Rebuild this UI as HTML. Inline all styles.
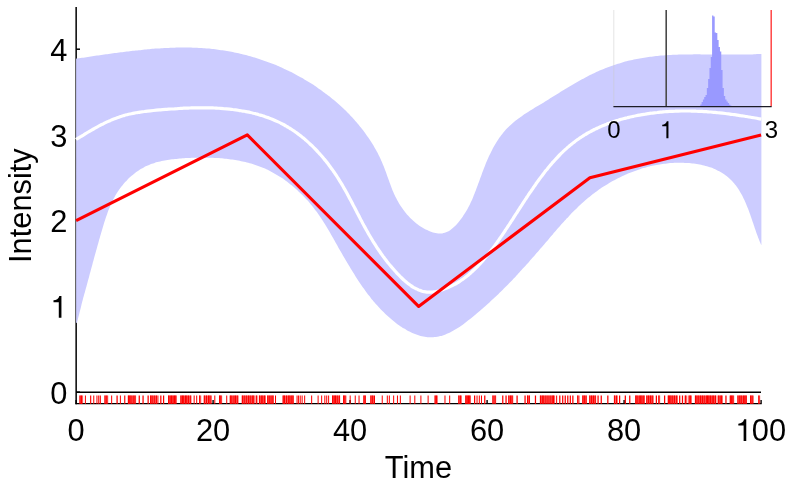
<!DOCTYPE html>
<html><head><meta charset="utf-8"><title>Intensity</title>
<style>
html,body{margin:0;padding:0;background:#fff;}
body{width:789px;height:487px;overflow:hidden;}
svg{display:block;will-change:transform;}
text{font-family:"Liberation Sans",sans-serif;fill:#000;}
</style></head><body>
<svg width="789" height="487" viewBox="0 0 789 487">
<rect width="789" height="487" fill="#fff"/>
<g stroke="#000" stroke-width="1.5" fill="none">
<line x1="76.15" y1="6.9" x2="76.15" y2="404.3"/>
<line x1="76.1" x2="80" y1="392.2" y2="392.2"/><line x1="76.1" x2="80" y1="306.4" y2="306.4"/><line x1="76.1" x2="80" y1="220.7" y2="220.7"/><line x1="76.1" x2="80" y1="134.9" y2="134.9"/><line x1="76.1" x2="80" y1="49.2" y2="49.2"/>
</g>
<path d="M76.1,58.7 C76.6,58.6 78.1,58.4 79.0,58.3 C80.0,58.1 81.0,58.0 82.0,57.8 C83.0,57.7 84.0,57.5 85.0,57.4 C85.9,57.2 86.9,57.1 87.9,56.9 C88.9,56.8 89.9,56.7 90.9,56.5 C91.9,56.4 92.9,56.2 93.8,56.1 C94.8,55.9 95.8,55.8 96.8,55.6 C97.8,55.5 98.8,55.3 99.8,55.2 C100.8,55.1 101.8,54.9 102.8,54.8 C103.8,54.6 104.8,54.5 105.8,54.3 C106.7,54.2 107.7,54.1 108.7,53.9 C109.7,53.8 110.7,53.6 111.7,53.5 C112.7,53.4 113.7,53.2 114.7,53.1 C115.7,53.0 116.7,52.8 117.7,52.7 C118.7,52.6 119.7,52.4 120.7,52.3 C121.7,52.2 122.7,52.0 123.7,51.9 C124.7,51.8 125.7,51.7 126.7,51.5 C127.7,51.4 128.7,51.3 129.7,51.2 C130.7,51.1 131.7,50.9 132.7,50.8 C133.7,50.7 134.7,50.6 135.7,50.5 C136.7,50.4 137.7,50.3 138.7,50.2 C139.7,50.1 140.7,50.0 141.7,49.9 C142.7,49.8 143.7,49.7 144.7,49.6 C145.7,49.5 146.7,49.4 147.7,49.3 C148.7,49.2 149.7,49.1 150.7,49.0 C151.7,48.9 152.7,48.9 153.7,48.8 C154.7,48.7 155.7,48.6 156.7,48.6 C157.7,48.5 158.7,48.4 159.7,48.4 C160.7,48.3 161.7,48.2 162.7,48.2 C163.7,48.1 164.7,48.1 165.7,48.0 C166.7,48.0 167.7,47.9 168.7,47.9 C169.7,47.8 170.7,47.8 171.7,47.8 C172.7,47.7 173.7,47.7 174.7,47.7 C175.7,47.7 176.7,47.6 177.7,47.6 C178.7,47.6 179.7,47.6 180.7,47.6 C181.7,47.6 182.7,47.6 183.7,47.6 C184.7,47.6 185.7,47.6 186.7,47.6 C187.7,47.6 188.7,47.6 189.7,47.6 C190.7,47.7 191.7,47.7 192.7,47.7 C193.7,47.7 194.7,47.8 195.7,47.8 C196.7,47.9 197.7,47.9 198.7,48.0 C199.7,48.0 200.7,48.1 201.7,48.1 C202.7,48.2 203.7,48.3 204.7,48.3 C205.7,48.4 206.7,48.5 207.6,48.6 C208.6,48.7 209.6,48.7 210.6,48.8 C211.6,48.9 212.6,49.0 213.6,49.1 C214.6,49.3 215.6,49.4 216.6,49.5 C217.6,49.6 218.5,49.7 219.5,49.9 C220.5,50.0 221.5,50.1 222.5,50.3 C223.5,50.4 224.5,50.6 225.5,50.8 C226.4,50.9 227.4,51.1 228.4,51.3 C229.4,51.4 230.4,51.6 231.4,51.8 C232.3,52.0 233.3,52.2 234.3,52.4 C235.3,52.6 236.3,52.8 237.2,53.0 C238.2,53.2 239.2,53.4 240.2,53.7 C241.1,53.9 242.1,54.1 243.1,54.4 C244.1,54.6 245.0,54.8 246.0,55.1 C247.0,55.4 248.0,55.6 248.9,55.9 C249.9,56.1 250.9,56.4 251.8,56.7 C252.8,57.0 253.8,57.3 254.7,57.6 C255.7,57.9 256.6,58.2 257.6,58.5 C258.6,58.8 259.5,59.1 260.5,59.4 C261.4,59.7 262.4,60.0 263.3,60.4 C264.3,60.7 265.2,61.0 266.2,61.4 C267.1,61.7 268.1,62.1 269.0,62.4 C270.0,62.8 270.9,63.1 271.8,63.5 C272.8,63.9 273.7,64.3 274.6,64.6 C275.6,65.0 276.5,65.4 277.4,65.8 C278.4,66.2 279.3,66.6 280.2,67.0 C281.1,67.4 282.1,67.8 283.0,68.2 C283.9,68.6 284.8,69.1 285.7,69.5 C286.6,69.9 287.5,70.4 288.4,70.8 C289.4,71.2 290.3,71.7 291.2,72.1 C292.1,72.6 293.0,73.0 293.9,73.5 C294.7,74.0 295.6,74.4 296.5,74.9 C297.4,75.4 298.3,75.9 299.2,76.4 C300.1,76.9 300.9,77.3 301.8,77.8 C302.7,78.3 303.6,78.8 304.4,79.4 C305.3,79.9 306.2,80.4 307.0,80.9 C307.9,81.4 308.7,82.0 309.6,82.5 C310.4,83.0 311.3,83.6 312.1,84.1 C313.0,84.7 313.8,85.2 314.7,85.8 C315.5,86.3 316.3,86.9 317.2,87.4 C318.0,88.0 318.8,88.6 319.6,89.2 C320.5,89.7 321.3,90.3 322.1,90.9 C322.9,91.5 323.7,92.1 324.5,92.7 C325.3,93.3 326.1,93.9 326.9,94.5 C327.7,95.1 328.5,95.7 329.3,96.3 C330.1,97.0 330.8,97.6 331.6,98.2 C332.4,98.8 333.2,99.5 333.9,100.1 C334.7,100.8 335.5,101.4 336.2,102.1 C337.0,102.7 337.7,103.4 338.5,104.0 C339.2,104.7 340.0,105.4 340.7,106.0 C341.4,106.7 342.2,107.4 342.9,108.1 C343.6,108.8 344.3,109.4 345.0,110.1 C345.8,110.8 346.5,111.5 347.2,112.2 C347.9,112.9 348.6,113.6 349.3,114.3 C350.0,115.1 350.6,115.8 351.3,116.5 C352.0,117.2 352.7,118.0 353.4,118.7 C354.0,119.4 354.7,120.2 355.3,120.9 C356.0,121.6 356.6,122.4 357.3,123.2 C357.9,123.9 358.6,124.7 359.2,125.4 C359.8,126.2 360.5,127.0 361.1,127.7 C361.7,128.5 362.3,129.3 362.9,130.1 C363.5,130.9 364.1,131.7 364.7,132.5 C365.3,133.3 365.9,134.1 366.4,134.9 C367.0,135.7 367.6,136.5 368.1,137.3 C368.7,138.1 369.2,139.0 369.8,139.8 C370.3,140.6 370.9,141.5 371.4,142.3 C371.9,143.1 372.5,144.0 373.0,144.8 C373.5,145.7 374.0,146.5 374.5,147.4 C375.0,148.3 375.5,149.1 376.0,150.0 C376.4,150.9 376.9,151.8 377.4,152.6 C377.8,153.5 378.3,154.4 378.7,155.3 C379.2,156.2 379.6,157.1 380.1,158.0 C380.5,158.9 380.9,159.8 381.3,160.8 C381.7,161.7 382.1,162.6 382.5,163.5 C382.9,164.5 383.3,165.4 383.7,166.3 C384.1,167.3 384.4,168.2 384.8,169.2 C385.2,170.1 385.5,171.1 385.9,172.0 C386.2,173.0 386.6,174.0 386.9,174.9 C387.2,175.9 387.6,176.9 387.9,177.8 C388.3,178.8 388.6,179.8 389.0,180.7 C389.3,181.7 389.7,182.7 390.0,183.6 C390.4,184.6 390.7,185.5 391.1,186.5 C391.5,187.5 391.8,188.4 392.2,189.4 C392.6,190.3 393.0,191.3 393.4,192.2 C393.8,193.1 394.2,194.1 394.6,195.0 C395.1,195.9 395.5,196.9 396.0,197.8 C396.4,198.7 396.9,199.6 397.4,200.5 C397.9,201.4 398.4,202.3 398.9,203.2 C399.4,204.1 400.0,204.9 400.5,205.8 C401.1,206.7 401.7,207.5 402.3,208.3 C402.8,209.2 403.4,210.0 404.1,210.8 C404.7,211.6 405.3,212.4 406.0,213.2 C406.6,214.0 407.3,214.7 408.0,215.5 C408.6,216.2 409.3,217.0 410.0,217.7 C410.7,218.4 411.4,219.1 412.2,219.8 C412.9,220.5 413.6,221.1 414.4,221.8 C415.1,222.4 415.9,223.1 416.7,223.7 C417.4,224.3 418.2,224.8 419.0,225.4 C419.8,226.0 420.6,226.5 421.4,227.0 C422.3,227.5 423.1,228.0 423.9,228.5 C424.7,229.0 425.6,229.4 426.4,229.8 C427.3,230.2 428.1,230.6 429.0,231.0 C429.9,231.4 430.7,231.7 431.6,232.0 C432.5,232.3 433.4,232.6 434.2,232.8 C435.1,233.0 436.0,233.2 436.9,233.3 C437.8,233.4 438.7,233.5 439.5,233.5 C440.4,233.5 441.3,233.5 442.2,233.4 C443.0,233.2 443.9,233.1 444.8,232.8 C445.6,232.5 446.5,232.2 447.3,231.8 C448.2,231.4 449.0,230.9 449.8,230.4 C450.6,229.8 451.4,229.2 452.2,228.6 C453.0,227.9 453.8,227.2 454.5,226.5 C455.3,225.8 456.0,225.0 456.8,224.2 C457.5,223.4 458.2,222.6 458.9,221.8 C459.5,220.9 460.2,220.1 460.8,219.3 C461.5,218.4 462.1,217.6 462.7,216.7 C463.2,215.9 463.8,215.0 464.4,214.1 C464.9,213.3 465.5,212.4 466.0,211.5 C466.5,210.6 467.0,209.8 467.5,208.9 C468.0,208.0 468.5,207.1 468.9,206.2 C469.4,205.3 469.8,204.3 470.3,203.4 C470.7,202.5 471.1,201.6 471.6,200.7 C472.0,199.8 472.4,198.8 472.8,197.9 C473.2,197.0 473.6,196.0 473.9,195.1 C474.3,194.2 474.7,193.2 475.0,192.3 C475.4,191.3 475.8,190.4 476.1,189.4 C476.5,188.5 476.8,187.6 477.2,186.6 C477.5,185.7 477.9,184.7 478.2,183.7 C478.6,182.8 478.9,181.8 479.3,180.9 C479.6,179.9 480.0,179.0 480.3,178.0 C480.7,177.1 481.0,176.1 481.4,175.2 C481.7,174.2 482.1,173.3 482.4,172.3 C482.8,171.4 483.1,170.4 483.5,169.5 C483.9,168.5 484.2,167.6 484.6,166.7 C485.0,165.7 485.4,164.8 485.7,163.8 C486.1,162.9 486.5,162.0 486.9,161.1 C487.3,160.1 487.7,159.2 488.1,158.3 C488.5,157.4 488.9,156.5 489.3,155.6 C489.8,154.7 490.2,153.8 490.6,152.9 C491.1,152.0 491.5,151.1 492.0,150.2 C492.4,149.3 492.9,148.4 493.3,147.6 C493.8,146.7 494.3,145.9 494.8,145.0 C495.3,144.2 495.8,143.3 496.3,142.5 C496.8,141.6 497.3,140.8 497.9,140.0 C498.4,139.2 499.0,138.4 499.5,137.6 C500.1,136.8 500.7,136.0 501.2,135.2 C501.8,134.4 502.4,133.7 503.0,132.9 C503.7,132.2 504.3,131.4 504.9,130.7 C505.6,130.0 506.2,129.3 506.9,128.6 C507.6,127.8 508.3,127.2 509.0,126.5 C509.7,125.8 510.4,125.1 511.2,124.5 C511.9,123.8 512.6,123.2 513.4,122.5 C514.2,121.9 514.9,121.3 515.7,120.6 C516.5,120.0 517.3,119.4 518.1,118.8 C518.9,118.2 519.7,117.6 520.6,117.0 C521.4,116.5 522.2,115.9 523.0,115.3 C523.9,114.7 524.7,114.2 525.6,113.6 C526.4,113.1 527.3,112.5 528.1,112.0 C529.0,111.4 529.9,110.9 530.7,110.3 C531.6,109.8 532.5,109.2 533.3,108.7 C534.2,108.2 535.1,107.6 535.9,107.1 C536.8,106.6 537.7,106.1 538.6,105.5 C539.4,105.0 540.3,104.5 541.2,104.0 C542.0,103.4 542.9,102.9 543.8,102.4 C544.6,101.9 545.5,101.3 546.4,100.8 C547.2,100.3 548.1,99.7 548.9,99.2 C549.8,98.7 550.6,98.2 551.5,97.6 C552.3,97.1 553.1,96.6 554.0,96.0 C554.8,95.5 555.7,95.0 556.5,94.5 C557.4,93.9 558.2,93.4 559.0,92.9 C559.9,92.4 560.7,91.8 561.5,91.3 C562.4,90.8 563.2,90.3 564.1,89.8 C564.9,89.2 565.7,88.7 566.6,88.2 C567.4,87.7 568.3,87.2 569.1,86.7 C570.0,86.2 570.8,85.7 571.7,85.2 C572.5,84.7 573.4,84.2 574.2,83.7 C575.1,83.2 575.9,82.7 576.8,82.2 C577.6,81.7 578.5,81.2 579.4,80.7 C580.3,80.2 581.1,79.8 582.0,79.3 C582.9,78.8 583.8,78.3 584.6,77.9 C585.5,77.4 586.4,76.9 587.3,76.5 C588.2,76.0 589.1,75.6 590.0,75.1 C590.9,74.7 591.8,74.3 592.7,73.8 C593.6,73.4 594.5,73.0 595.4,72.5 C596.4,72.1 597.3,71.7 598.2,71.3 C599.1,70.9 600.0,70.5 601.0,70.1 C601.9,69.7 602.8,69.3 603.7,68.9 C604.7,68.5 605.6,68.2 606.6,67.8 C607.5,67.4 608.4,67.1 609.4,66.7 C610.3,66.4 611.3,66.0 612.2,65.7 C613.2,65.3 614.1,65.0 615.1,64.7 C616.0,64.4 617.0,64.1 617.9,63.8 C618.9,63.4 619.8,63.2 620.8,62.9 C621.8,62.6 622.7,62.3 623.7,62.0 C624.6,61.8 625.6,61.5 626.6,61.3 C627.6,61.0 628.5,60.8 629.5,60.6 C630.5,60.3 631.4,60.1 632.4,59.9 C633.4,59.7 634.4,59.5 635.3,59.3 C636.3,59.1 637.3,58.9 638.3,58.7 C639.3,58.5 640.2,58.3 641.2,58.2 C642.2,58.0 643.2,57.8 644.2,57.7 C645.2,57.5 646.2,57.4 647.1,57.2 C648.1,57.1 649.1,56.9 650.1,56.8 C651.1,56.7 652.1,56.6 653.1,56.5 C654.1,56.3 655.1,56.2 656.1,56.1 C657.1,56.0 658.1,55.9 659.1,55.8 C660.1,55.7 661.1,55.6 662.1,55.6 C663.1,55.5 664.1,55.4 665.1,55.3 C666.1,55.3 667.1,55.2 668.1,55.1 C669.1,55.1 670.1,55.0 671.1,55.0 C672.1,54.9 673.1,54.9 674.1,54.8 C675.1,54.8 676.1,54.7 677.1,54.7 C678.1,54.6 679.1,54.6 680.2,54.6 C681.2,54.6 682.2,54.5 683.2,54.5 C684.2,54.5 685.2,54.5 686.2,54.4 C687.2,54.4 688.2,54.4 689.2,54.4 C690.2,54.4 691.3,54.4 692.3,54.4 C693.3,54.4 694.3,54.4 695.3,54.3 C696.3,54.3 697.3,54.3 698.3,54.3 C699.3,54.3 700.4,54.3 701.4,54.4 C702.4,54.4 703.4,54.4 704.4,54.4 C705.4,54.4 706.4,54.4 707.4,54.4 C708.4,54.4 709.5,54.4 710.5,54.4 C711.5,54.4 712.5,54.4 713.5,54.4 C714.5,54.5 715.5,54.5 716.5,54.5 C717.5,54.5 718.5,54.5 719.5,54.5 C720.6,54.5 721.6,54.5 722.6,54.5 C723.6,54.6 724.6,54.6 725.6,54.6 C726.6,54.6 727.6,54.6 728.6,54.6 C729.6,54.6 730.6,54.6 731.6,54.6 C732.6,54.6 733.6,54.6 734.6,54.6 C735.6,54.6 736.6,54.6 737.6,54.6 C738.6,54.6 739.6,54.6 740.6,54.6 C741.6,54.6 742.6,54.6 743.6,54.6 C744.6,54.6 745.6,54.5 746.6,54.5 C747.6,54.5 748.6,54.5 749.6,54.5 C750.6,54.4 751.6,54.4 752.5,54.4 C753.5,54.3 754.5,54.3 755.5,54.3 C756.5,54.2 757.5,54.2 758.5,54.1 C759.4,54.1 760.9,54.0 761.4,54.0 L761.4,245.3  C761.2,244.9 760.6,243.6 760.3,242.8 C759.9,241.9 759.5,241.1 759.2,240.2 C758.8,239.3 758.5,238.4 758.1,237.5 C757.8,236.6 757.5,235.7 757.1,234.8 C756.8,233.9 756.5,232.9 756.1,232.0 C755.8,231.0 755.5,230.1 755.1,229.1 C754.8,228.2 754.5,227.2 754.2,226.3 C753.8,225.3 753.5,224.3 753.2,223.3 C752.9,222.4 752.5,221.4 752.2,220.4 C751.9,219.4 751.5,218.4 751.2,217.4 C750.8,216.5 750.5,215.5 750.2,214.5 C749.8,213.5 749.4,212.5 749.1,211.6 C748.7,210.6 748.4,209.6 748.0,208.6 C747.6,207.6 747.2,206.7 746.8,205.7 C746.4,204.8 746.0,203.8 745.6,202.8 C745.2,201.9 744.8,200.9 744.4,200.0 C743.9,199.1 743.5,198.2 743.0,197.2 C742.6,196.3 742.1,195.4 741.6,194.5 C741.1,193.6 740.6,192.7 740.1,191.9 C739.6,191.0 739.0,190.2 738.5,189.3 C738.0,188.5 737.4,187.6 736.8,186.8 C736.2,186.0 735.6,185.2 735.0,184.5 C734.4,183.7 733.7,182.9 733.1,182.2 C732.4,181.4 731.7,180.7 731.0,180.0 C730.3,179.3 729.6,178.7 728.9,178.0 C728.1,177.3 727.4,176.7 726.6,176.1 C725.8,175.5 725.1,174.9 724.2,174.3 C723.4,173.8 722.6,173.2 721.8,172.7 C721.0,172.2 720.1,171.7 719.3,171.2 C718.4,170.8 717.5,170.3 716.6,169.9 C715.7,169.5 714.9,169.1 713.9,168.7 C713.0,168.3 712.1,168.0 711.2,167.6 C710.3,167.3 709.3,167.0 708.4,166.7 C707.4,166.4 706.5,166.1 705.5,165.9 C704.6,165.6 703.6,165.4 702.6,165.2 C701.7,165.0 700.7,164.8 699.7,164.6 C698.7,164.4 697.7,164.2 696.8,164.1 C695.8,163.9 694.8,163.8 693.8,163.6 C692.8,163.5 691.8,163.4 690.8,163.3 C689.8,163.2 688.8,163.1 687.8,163.1 C686.8,163.0 685.8,162.9 684.9,162.9 C683.9,162.8 682.9,162.8 681.9,162.8 C680.9,162.8 679.9,162.8 678.9,162.8 C677.9,162.8 676.9,162.8 675.9,162.8 C674.9,162.9 673.9,162.9 672.9,162.9 C671.9,163.0 670.9,163.1 670.0,163.1 C669.0,163.2 668.0,163.3 667.0,163.4 C666.0,163.5 665.0,163.6 664.0,163.8 C663.0,163.9 662.1,164.0 661.1,164.2 C660.1,164.3 659.1,164.5 658.1,164.7 C657.2,164.8 656.2,165.0 655.2,165.2 C654.2,165.4 653.2,165.6 652.3,165.8 C651.3,166.0 650.3,166.3 649.4,166.5 C648.4,166.7 647.4,167.0 646.5,167.2 C645.5,167.5 644.5,167.8 643.6,168.1 C642.6,168.3 641.7,168.6 640.7,168.9 C639.7,169.2 638.8,169.5 637.8,169.9 C636.9,170.2 636.0,170.5 635.0,170.9 C634.1,171.2 633.1,171.5 632.2,171.9 C631.3,172.3 630.3,172.6 629.4,173.0 C628.5,173.4 627.5,173.8 626.6,174.2 C625.7,174.6 624.8,175.0 623.9,175.4 C623.0,175.8 622.0,176.2 621.1,176.7 C620.2,177.1 619.3,177.6 618.4,178.0 C617.5,178.5 616.6,178.9 615.7,179.4 C614.9,179.9 614.0,180.3 613.1,180.8 C612.2,181.3 611.3,181.8 610.5,182.3 C609.6,182.8 608.7,183.3 607.9,183.9 C607.0,184.4 606.1,184.9 605.3,185.4 C604.4,186.0 603.6,186.5 602.7,187.1 C601.9,187.6 601.1,188.2 600.2,188.8 C599.4,189.3 598.6,189.9 597.8,190.5 C596.9,191.1 596.1,191.7 595.3,192.3 C594.5,192.9 593.7,193.5 592.9,194.1 C592.1,194.7 591.3,195.3 590.6,195.9 C589.8,196.6 589.0,197.2 588.2,197.8 C587.4,198.5 586.7,199.1 585.9,199.8 C585.2,200.4 584.4,201.1 583.7,201.7 C582.9,202.4 582.2,203.1 581.4,203.8 C580.7,204.4 580.0,205.1 579.2,205.8 C578.5,206.5 577.8,207.2 577.1,207.9 C576.4,208.6 575.7,209.3 574.9,210.0 C574.2,210.7 573.5,211.4 572.8,212.1 C572.1,212.8 571.4,213.5 570.7,214.3 C570.1,215.0 569.4,215.7 568.7,216.4 C568.0,217.2 567.3,217.9 566.6,218.6 C566.0,219.4 565.3,220.1 564.6,220.8 C563.9,221.6 563.3,222.3 562.6,223.1 C561.9,223.8 561.3,224.6 560.6,225.3 C559.9,226.1 559.3,226.8 558.6,227.6 C558.0,228.3 557.3,229.1 556.6,229.8 C556.0,230.6 555.3,231.3 554.7,232.1 C554.0,232.8 553.4,233.6 552.7,234.4 C552.1,235.1 551.4,235.9 550.8,236.6 C550.1,237.4 549.5,238.1 548.8,238.9 C548.2,239.7 547.5,240.4 546.9,241.2 C546.2,241.9 545.6,242.7 544.9,243.4 C544.3,244.2 543.6,244.9 543.0,245.7 C542.3,246.5 541.7,247.2 541.0,248.0 C540.4,248.7 539.7,249.5 539.1,250.2 C538.4,251.0 537.8,251.7 537.1,252.5 C536.5,253.2 535.8,254.0 535.2,254.7 C534.5,255.5 533.9,256.2 533.2,257.0 C532.6,257.7 531.9,258.5 531.2,259.2 C530.6,259.9 529.9,260.7 529.3,261.4 C528.6,262.2 528.0,262.9 527.3,263.7 C526.6,264.4 526.0,265.1 525.3,265.9 C524.7,266.6 524.0,267.4 523.3,268.1 C522.7,268.8 522.0,269.6 521.3,270.3 C520.7,271.0 520.0,271.8 519.3,272.5 C518.6,273.2 518.0,274.0 517.3,274.7 C516.6,275.4 515.9,276.1 515.3,276.9 C514.6,277.6 513.9,278.3 513.2,279.0 C512.5,279.8 511.9,280.5 511.2,281.2 C510.5,281.9 509.8,282.6 509.1,283.3 C508.4,284.1 507.7,284.8 507.0,285.5 C506.3,286.2 505.6,286.9 504.9,287.6 C504.2,288.3 503.5,289.0 502.8,289.7 C502.1,290.4 501.4,291.1 500.7,291.8 C499.9,292.5 499.2,293.2 498.5,293.9 C497.8,294.6 497.1,295.3 496.3,296.0 C495.6,296.7 494.9,297.4 494.1,298.1 C493.4,298.8 492.7,299.4 491.9,300.1 C491.2,300.8 490.4,301.5 489.7,302.2 C489.0,302.9 488.2,303.5 487.4,304.2 C486.7,304.9 485.9,305.6 485.2,306.2 C484.4,306.9 483.6,307.6 482.9,308.2 C482.1,308.9 481.3,309.6 480.6,310.2 C479.8,310.9 479.0,311.6 478.2,312.2 C477.4,312.9 476.6,313.6 475.9,314.2 C475.1,314.9 474.3,315.6 473.5,316.2 C472.7,316.9 471.9,317.5 471.1,318.2 C470.2,318.8 469.4,319.5 468.6,320.1 C467.8,320.8 467.0,321.4 466.2,322.0 C465.3,322.7 464.5,323.3 463.7,323.9 C462.8,324.5 462.0,325.1 461.2,325.7 C460.3,326.3 459.5,326.9 458.6,327.4 C457.8,328.0 456.9,328.5 456.1,329.1 C455.2,329.6 454.3,330.1 453.5,330.6 C452.6,331.1 451.7,331.6 450.9,332.0 C450.0,332.5 449.1,332.9 448.2,333.3 C447.3,333.7 446.4,334.1 445.5,334.4 C444.6,334.7 443.7,335.1 442.8,335.4 C441.9,335.7 441.0,335.9 440.1,336.1 C439.2,336.4 438.3,336.6 437.3,336.7 C436.4,336.9 435.5,337.0 434.6,337.1 C433.6,337.2 432.7,337.3 431.8,337.3 C430.8,337.4 429.9,337.4 429.0,337.3 C428.0,337.3 427.1,337.2 426.2,337.1 C425.2,337.0 424.3,336.8 423.4,336.6 C422.4,336.5 421.5,336.2 420.6,336.0 C419.6,335.7 418.7,335.5 417.8,335.1 C416.8,334.8 415.9,334.5 415.0,334.1 C414.1,333.8 413.2,333.4 412.3,333.0 C411.3,332.5 410.4,332.1 409.5,331.6 C408.6,331.2 407.7,330.7 406.8,330.2 C406.0,329.7 405.1,329.2 404.2,328.6 C403.3,328.1 402.4,327.5 401.6,326.9 C400.7,326.4 399.9,325.8 399.0,325.2 C398.2,324.6 397.3,324.0 396.5,323.4 C395.7,322.7 394.9,322.1 394.1,321.5 C393.3,320.8 392.5,320.2 391.7,319.5 C390.9,318.9 390.1,318.2 389.4,317.5 C388.6,316.9 387.8,316.2 387.1,315.5 C386.3,314.8 385.6,314.1 384.9,313.4 C384.2,312.8 383.4,312.0 382.7,311.3 C382.0,310.6 381.3,309.9 380.6,309.2 C379.9,308.5 379.2,307.7 378.6,307.0 C377.9,306.3 377.2,305.5 376.6,304.8 C375.9,304.0 375.2,303.3 374.6,302.5 C373.9,301.8 373.3,301.0 372.7,300.2 C372.0,299.5 371.4,298.7 370.8,297.9 C370.2,297.1 369.5,296.3 368.9,295.6 C368.3,294.8 367.7,294.0 367.1,293.2 C366.5,292.4 365.9,291.6 365.3,290.8 C364.8,290.0 364.2,289.2 363.6,288.3 C363.0,287.5 362.5,286.7 361.9,285.9 C361.3,285.1 360.8,284.2 360.2,283.4 C359.6,282.6 359.1,281.8 358.5,280.9 C358.0,280.1 357.4,279.2 356.9,278.4 C356.3,277.6 355.8,276.7 355.3,275.9 C354.7,275.0 354.2,274.2 353.7,273.3 C353.1,272.5 352.6,271.6 352.1,270.8 C351.6,269.9 351.0,269.1 350.5,268.2 C350.0,267.3 349.5,266.5 348.9,265.6 C348.4,264.8 347.9,263.9 347.4,263.0 C346.9,262.2 346.4,261.3 345.9,260.4 C345.3,259.6 344.8,258.7 344.3,257.8 C343.8,257.0 343.3,256.1 342.8,255.2 C342.3,254.3 341.8,253.5 341.3,252.6 C340.8,251.7 340.3,250.9 339.8,250.0 C339.3,249.1 338.8,248.2 338.3,247.4 C337.8,246.5 337.4,245.6 336.9,244.8 C336.4,243.9 335.9,243.0 335.4,242.2 C334.9,241.3 334.4,240.4 333.9,239.6 C333.5,238.7 333.0,237.8 332.5,237.0 C332.0,236.1 331.5,235.3 331.0,234.4 C330.5,233.5 330.0,232.7 329.5,231.8 C329.0,231.0 328.5,230.1 328.0,229.3 C327.5,228.4 327.0,227.6 326.5,226.7 C326.0,225.9 325.5,225.0 325.0,224.2 C324.5,223.3 323.9,222.5 323.4,221.7 C322.9,220.8 322.3,220.0 321.8,219.2 C321.2,218.3 320.7,217.5 320.1,216.7 C319.6,215.9 319.0,215.0 318.4,214.2 C317.8,213.4 317.3,212.6 316.7,211.8 C316.1,211.0 315.5,210.2 314.8,209.4 C314.2,208.6 313.6,207.8 313.0,207.0 C312.3,206.2 311.7,205.4 311.1,204.7 C310.4,203.9 309.8,203.1 309.1,202.3 C308.4,201.6 307.8,200.8 307.1,200.1 C306.4,199.3 305.7,198.6 305.0,197.8 C304.3,197.1 303.6,196.4 302.9,195.6 C302.2,194.9 301.5,194.2 300.7,193.5 C300.0,192.8 299.3,192.1 298.5,191.4 C297.8,190.7 297.0,190.0 296.3,189.3 C295.5,188.6 294.8,187.9 294.0,187.3 C293.2,186.6 292.4,186.0 291.7,185.3 C290.9,184.7 290.1,184.1 289.3,183.4 C288.5,182.8 287.7,182.2 286.9,181.6 C286.1,181.0 285.3,180.4 284.4,179.8 C283.6,179.2 282.8,178.7 282.0,178.1 C281.1,177.5 280.3,177.0 279.4,176.4 C278.6,175.9 277.7,175.4 276.9,174.9 C276.0,174.4 275.2,173.9 274.3,173.4 C273.4,172.9 272.6,172.4 271.7,171.9 C270.8,171.5 269.9,171.0 269.0,170.6 C268.1,170.1 267.3,169.7 266.4,169.3 C265.5,168.9 264.6,168.5 263.6,168.1 C262.7,167.7 261.8,167.4 260.9,167.0 C260.0,166.6 259.1,166.3 258.2,166.0 C257.2,165.6 256.3,165.3 255.4,165.0 C254.4,164.7 253.5,164.4 252.6,164.1 C251.6,163.8 250.7,163.5 249.7,163.3 C248.8,163.0 247.8,162.7 246.9,162.5 C245.9,162.2 245.0,162.0 244.0,161.8 C243.0,161.6 242.1,161.4 241.1,161.2 C240.1,161.0 239.2,160.8 238.2,160.6 C237.2,160.4 236.3,160.2 235.3,160.1 C234.3,159.9 233.3,159.7 232.3,159.6 C231.3,159.5 230.4,159.3 229.4,159.2 C228.4,159.1 227.4,159.0 226.4,158.8 C225.4,158.7 224.4,158.6 223.4,158.5 C222.4,158.4 221.4,158.4 220.4,158.3 C219.4,158.2 218.4,158.1 217.4,158.1 C216.4,158.0 215.4,158.0 214.4,157.9 C213.4,157.9 212.4,157.8 211.4,157.8 C210.4,157.8 209.4,157.7 208.4,157.7 C207.3,157.7 206.3,157.7 205.3,157.7 C204.3,157.7 203.3,157.7 202.3,157.7 C201.3,157.7 200.3,157.7 199.2,157.7 C198.2,157.7 197.2,157.7 196.2,157.8 C195.2,157.8 194.2,157.8 193.2,157.8 C192.1,157.9 191.1,157.9 190.1,158.0 C189.1,158.0 188.1,158.1 187.1,158.1 C186.1,158.2 185.1,158.2 184.0,158.3 C183.0,158.3 182.0,158.4 181.0,158.5 C180.0,158.6 179.0,158.6 178.0,158.7 C177.0,158.8 176.0,158.9 175.0,159.0 C174.0,159.1 173.0,159.2 172.0,159.3 C171.0,159.5 170.0,159.6 169.0,159.7 C168.0,159.9 167.0,160.0 166.1,160.2 C165.1,160.4 164.1,160.5 163.1,160.7 C162.2,160.9 161.2,161.1 160.2,161.4 C159.3,161.6 158.3,161.8 157.4,162.1 C156.4,162.3 155.5,162.6 154.6,162.9 C153.6,163.2 152.7,163.5 151.8,163.8 C150.9,164.2 150.0,164.5 149.1,164.9 C148.2,165.3 147.3,165.7 146.4,166.1 C145.5,166.5 144.6,166.9 143.8,167.4 C142.9,167.8 142.0,168.3 141.2,168.8 C140.4,169.3 139.5,169.8 138.7,170.4 C137.9,170.9 137.1,171.5 136.2,172.1 C135.4,172.7 134.7,173.3 133.9,173.9 C133.1,174.5 132.3,175.1 131.6,175.8 C130.8,176.5 130.1,177.1 129.3,177.8 C128.6,178.5 127.9,179.2 127.2,179.9 C126.5,180.7 125.8,181.4 125.1,182.1 C124.4,182.9 123.8,183.7 123.1,184.4 C122.5,185.2 121.9,186.0 121.2,186.8 C120.6,187.6 120.0,188.4 119.4,189.2 C118.9,190.1 118.3,190.9 117.7,191.7 C117.2,192.6 116.6,193.4 116.1,194.3 C115.6,195.2 115.1,196.0 114.6,196.9 C114.1,197.8 113.7,198.7 113.2,199.6 C112.8,200.5 112.3,201.4 111.9,202.3 C111.5,203.2 111.0,204.1 110.6,205.0 C110.2,205.9 109.8,206.9 109.5,207.8 C109.1,208.7 108.7,209.7 108.3,210.6 C108.0,211.5 107.6,212.5 107.3,213.4 C107.0,214.4 106.6,215.3 106.3,216.3 C106.0,217.2 105.6,218.2 105.3,219.2 C105.0,220.1 104.7,221.1 104.4,222.0 C104.1,223.0 103.8,224.0 103.5,224.9 C103.2,225.9 102.9,226.8 102.7,227.8 C102.4,228.8 102.1,229.7 101.8,230.7 C101.5,231.7 101.2,232.6 101.0,233.6 C100.7,234.5 100.4,235.5 100.1,236.5 C99.9,237.4 99.6,238.4 99.3,239.3 C99.0,240.3 98.8,241.3 98.5,242.2 C98.2,243.2 98.0,244.1 97.7,245.1 C97.4,246.0 97.2,247.0 96.9,248.0 C96.6,248.9 96.4,249.9 96.1,250.8 C95.8,251.8 95.6,252.7 95.3,253.7 C95.0,254.6 94.8,255.6 94.5,256.6 C94.2,257.5 94.0,258.5 93.7,259.4 C93.5,260.4 93.2,261.3 92.9,262.3 C92.7,263.3 92.4,264.2 92.2,265.2 C91.9,266.1 91.6,267.1 91.4,268.0 C91.1,269.0 90.9,270.0 90.6,270.9 C90.3,271.9 90.1,272.8 89.8,273.8 C89.6,274.8 89.3,275.7 89.1,276.7 C88.8,277.6 88.5,278.6 88.3,279.6 C88.0,280.5 87.7,281.5 87.5,282.5 C87.2,283.4 87.0,284.4 86.7,285.4 C86.4,286.3 86.2,287.3 85.9,288.3 C85.6,289.2 85.4,290.2 85.1,291.2 C84.9,292.2 84.6,293.1 84.3,294.1 C84.0,295.1 83.8,296.1 83.5,297.1 C83.2,298.0 83.1,298.5 82.7,300.0 C82.3,301.5 81.7,303.8 81.2,306.0 C80.7,308.2 80.0,310.8 79.4,313.0 C78.9,315.2 78.3,317.4 77.9,319.0 C77.5,320.6 77.3,321.9 77.0,322.5 C76.7,323.1 76.2,322.8 76.1,322.9 Z" fill="#ccccff"/>
<path d="M76.1,139.5 C76.5,139.2 77.8,138.5 78.6,137.9 C79.5,137.4 80.3,136.9 81.2,136.4 C82.1,135.8 82.9,135.3 83.8,134.8 C84.6,134.3 85.5,133.7 86.4,133.2 C87.2,132.7 88.1,132.2 89.0,131.7 C89.9,131.1 90.7,130.6 91.6,130.1 C92.5,129.6 93.4,129.1 94.2,128.6 C95.1,128.1 96.0,127.6 96.9,127.1 C97.8,126.6 98.7,126.2 99.6,125.7 C100.5,125.2 101.4,124.7 102.3,124.3 C103.2,123.8 104.1,123.4 105.0,122.9 C105.9,122.5 106.8,122.1 107.7,121.6 C108.6,121.2 109.5,120.8 110.5,120.4 C111.4,120.0 112.3,119.6 113.2,119.2 C114.1,118.9 115.1,118.5 116.0,118.2 C116.9,117.8 117.8,117.5 118.8,117.2 C119.7,116.8 120.6,116.5 121.6,116.2 C122.5,115.9 123.4,115.7 124.4,115.4 C125.3,115.1 126.3,114.9 127.2,114.7 C128.2,114.4 129.1,114.2 130.1,114.0 C131.0,113.8 132.0,113.6 132.9,113.4 C133.9,113.2 134.8,113.0 135.8,112.8 C136.8,112.6 137.7,112.5 138.7,112.3 C139.7,112.2 140.6,112.0 141.6,111.9 C142.6,111.7 143.5,111.6 144.5,111.5 C145.5,111.3 146.5,111.2 147.5,111.1 C148.4,111.0 149.4,110.9 150.4,110.8 C151.4,110.7 152.4,110.6 153.4,110.5 C154.4,110.4 155.4,110.3 156.3,110.2 C157.3,110.1 158.3,110.0 159.3,109.9 C160.3,109.8 161.3,109.8 162.3,109.7 C163.3,109.6 164.3,109.5 165.4,109.4 C166.4,109.3 167.4,109.3 168.4,109.2 C169.4,109.1 170.4,109.0 171.4,109.0 C172.4,108.9 173.4,108.8 174.5,108.8 C175.5,108.7 176.5,108.6 177.5,108.6 C178.5,108.5 179.6,108.5 180.6,108.4 C181.6,108.3 182.6,108.3 183.6,108.2 C184.7,108.2 185.7,108.1 186.7,108.1 C187.7,108.1 188.8,108.0 189.8,108.0 C190.8,108.0 191.8,107.9 192.9,107.9 C193.9,107.9 194.9,107.8 195.9,107.8 C197.0,107.8 198.0,107.8 199.0,107.8 C200.1,107.8 201.1,107.8 202.1,107.8 C203.1,107.8 204.2,107.8 205.2,107.8 C206.2,107.8 207.2,107.8 208.3,107.8 C209.3,107.9 210.3,107.9 211.3,107.9 C212.3,107.9 213.4,108.0 214.4,108.0 C215.4,108.1 216.4,108.1 217.4,108.2 C218.5,108.2 219.5,108.3 220.5,108.3 C221.5,108.4 222.5,108.5 223.5,108.6 C224.5,108.6 225.6,108.7 226.6,108.8 C227.6,108.9 228.6,109.0 229.6,109.1 C230.6,109.2 231.6,109.3 232.6,109.5 C233.6,109.6 234.6,109.7 235.6,109.8 C236.6,110.0 237.6,110.1 238.6,110.3 C239.6,110.4 240.5,110.6 241.5,110.8 C242.5,110.9 243.5,111.1 244.5,111.3 C245.5,111.5 246.4,111.7 247.4,111.9 C248.4,112.1 249.4,112.3 250.3,112.5 C251.3,112.7 252.3,112.9 253.2,113.2 C254.2,113.4 255.1,113.6 256.1,113.9 C257.0,114.1 258.0,114.4 258.9,114.7 C259.9,115.0 260.8,115.2 261.8,115.5 C262.7,115.8 263.6,116.1 264.6,116.4 C265.5,116.7 266.4,117.1 267.3,117.4 C268.3,117.7 269.2,118.1 270.1,118.4 C271.0,118.8 271.9,119.1 272.8,119.5 C273.7,119.9 274.6,120.3 275.5,120.7 C276.4,121.1 277.3,121.5 278.2,121.9 C279.1,122.3 279.9,122.7 280.8,123.2 C281.7,123.6 282.5,124.1 283.4,124.5 C284.3,125.0 285.1,125.5 286.0,126.0 C286.8,126.5 287.7,127.0 288.5,127.5 C289.3,128.0 290.2,128.5 291.0,129.0 C291.8,129.6 292.6,130.1 293.5,130.7 C294.3,131.2 295.1,131.8 295.9,132.3 C296.7,132.9 297.5,133.5 298.3,134.1 C299.1,134.7 299.9,135.3 300.7,135.9 C301.4,136.5 302.2,137.1 303.0,137.8 C303.7,138.4 304.5,139.0 305.3,139.7 C306.0,140.3 306.8,141.0 307.5,141.6 C308.3,142.3 309.0,143.0 309.7,143.7 C310.5,144.4 311.2,145.0 311.9,145.7 C312.6,146.4 313.4,147.1 314.1,147.9 C314.8,148.6 315.5,149.3 316.2,150.0 C316.9,150.7 317.6,151.5 318.2,152.2 C318.9,153.0 319.6,153.7 320.3,154.5 C320.9,155.2 321.6,156.0 322.3,156.8 C322.9,157.5 323.6,158.3 324.2,159.1 C324.9,159.9 325.5,160.6 326.1,161.4 C326.8,162.2 327.4,163.0 328.0,163.8 C328.6,164.6 329.2,165.4 329.8,166.3 C330.4,167.1 331.0,167.9 331.6,168.7 C332.2,169.5 332.8,170.4 333.4,171.2 C334.0,172.0 334.5,172.9 335.1,173.7 C335.7,174.5 336.2,175.4 336.8,176.2 C337.3,177.1 337.9,177.9 338.4,178.8 C339.0,179.6 339.5,180.5 340.0,181.4 C340.5,182.2 341.1,183.1 341.6,183.9 C342.1,184.8 342.6,185.7 343.1,186.5 C343.6,187.4 344.1,188.3 344.6,189.2 C345.1,190.0 345.6,190.9 346.1,191.8 C346.6,192.7 347.1,193.6 347.5,194.4 C348.0,195.3 348.5,196.2 349.0,197.1 C349.5,198.0 349.9,198.9 350.4,199.7 C350.9,200.6 351.3,201.5 351.8,202.4 C352.3,203.3 352.7,204.2 353.2,205.1 C353.7,205.9 354.1,206.8 354.6,207.7 C355.0,208.6 355.5,209.5 356.0,210.4 C356.4,211.2 356.9,212.1 357.3,213.0 C357.8,213.9 358.2,214.8 358.7,215.6 C359.2,216.5 359.6,217.4 360.1,218.3 C360.5,219.2 361.0,220.0 361.5,220.9 C361.9,221.8 362.4,222.6 362.8,223.5 C363.3,224.4 363.8,225.2 364.2,226.1 C364.7,227.0 365.2,227.8 365.7,228.7 C366.1,229.5 366.6,230.4 367.1,231.2 C367.6,232.1 368.1,232.9 368.5,233.8 C369.0,234.6 369.5,235.5 370.0,236.3 C370.5,237.2 371.0,238.0 371.5,238.8 C372.0,239.7 372.5,240.5 373.0,241.3 C373.6,242.2 374.1,243.0 374.6,243.8 C375.1,244.7 375.7,245.5 376.2,246.3 C376.7,247.1 377.3,248.0 377.8,248.8 C378.4,249.6 378.9,250.4 379.5,251.2 C380.0,252.0 380.6,252.9 381.2,253.7 C381.8,254.5 382.4,255.3 382.9,256.1 C383.5,256.9 384.1,257.7 384.7,258.5 C385.4,259.3 386.0,260.2 386.6,261.0 C387.2,261.8 387.9,262.6 388.5,263.4 C389.1,264.2 389.8,265.0 390.5,265.8 C391.1,266.6 391.8,267.4 392.5,268.1 C393.2,268.9 393.9,269.7 394.6,270.5 C395.3,271.3 396.0,272.1 396.7,272.9 C397.4,273.7 398.2,274.5 398.9,275.2 C399.7,276.0 400.4,276.8 401.2,277.5 C402.0,278.3 402.7,279.0 403.5,279.7 C404.3,280.4 405.1,281.2 405.9,281.8 C406.7,282.5 407.5,283.2 408.4,283.8 C409.2,284.4 410.0,285.1 410.9,285.6 C411.7,286.2 412.6,286.8 413.4,287.3 C414.3,287.8 415.2,288.3 416.0,288.7 C416.9,289.2 417.8,289.6 418.7,290.0 C419.6,290.3 420.5,290.7 421.4,290.9 C422.3,291.2 423.3,291.5 424.2,291.7 C425.1,291.8 426.1,292.0 427.0,292.1 C428.0,292.2 428.9,292.2 429.9,292.2 C430.8,292.2 431.8,292.1 432.8,292.0 C433.7,291.9 434.7,291.7 435.7,291.6 C436.6,291.4 437.6,291.2 438.5,290.9 C439.5,290.7 440.5,290.4 441.4,290.1 C442.3,289.8 443.3,289.5 444.2,289.1 C445.1,288.8 446.1,288.4 447.0,288.1 C447.9,287.7 448.8,287.3 449.6,286.9 C450.5,286.5 451.4,286.1 452.3,285.6 C453.1,285.2 454.0,284.7 454.8,284.3 C455.7,283.8 456.5,283.3 457.3,282.8 C458.2,282.3 459.0,281.8 459.8,281.3 C460.6,280.8 461.4,280.2 462.2,279.7 C463.0,279.1 463.8,278.5 464.5,278.0 C465.3,277.4 466.1,276.8 466.8,276.2 C467.6,275.6 468.4,275.0 469.1,274.3 C469.8,273.7 470.6,273.1 471.3,272.4 C472.0,271.8 472.8,271.1 473.5,270.4 C474.2,269.8 474.9,269.1 475.6,268.4 C476.3,267.7 477.0,267.0 477.7,266.3 C478.4,265.6 479.0,264.9 479.7,264.2 C480.4,263.4 481.1,262.7 481.7,262.0 C482.4,261.2 483.0,260.5 483.7,259.7 C484.3,258.9 485.0,258.2 485.6,257.4 C486.3,256.6 486.9,255.9 487.5,255.1 C488.2,254.3 488.8,253.5 489.4,252.7 C490.0,251.9 490.7,251.1 491.3,250.3 C491.9,249.5 492.5,248.7 493.1,247.9 C493.7,247.0 494.3,246.2 494.9,245.4 C495.5,244.6 496.1,243.7 496.7,242.9 C497.3,242.1 497.9,241.3 498.5,240.4 C499.1,239.6 499.7,238.7 500.2,237.9 C500.8,237.1 501.4,236.2 502.0,235.4 C502.5,234.5 503.1,233.7 503.7,232.8 C504.3,232.0 504.8,231.1 505.4,230.3 C506.0,229.4 506.5,228.5 507.1,227.7 C507.7,226.8 508.2,226.0 508.8,225.1 C509.4,224.3 509.9,223.4 510.5,222.5 C511.0,221.7 511.6,220.8 512.2,220.0 C512.7,219.1 513.3,218.2 513.8,217.4 C514.4,216.5 514.9,215.6 515.5,214.8 C516.1,213.9 516.6,213.0 517.2,212.2 C517.7,211.3 518.3,210.5 518.8,209.6 C519.4,208.7 519.9,207.9 520.5,207.0 C521.1,206.2 521.6,205.3 522.2,204.4 C522.7,203.6 523.3,202.7 523.8,201.9 C524.4,201.0 525.0,200.2 525.5,199.3 C526.1,198.5 526.6,197.6 527.2,196.8 C527.8,195.9 528.3,195.1 528.9,194.2 C529.5,193.4 530.0,192.5 530.6,191.7 C531.2,190.8 531.7,190.0 532.3,189.2 C532.9,188.3 533.4,187.5 534.0,186.7 C534.6,185.8 535.2,185.0 535.8,184.2 C536.3,183.4 536.9,182.6 537.5,181.7 C538.1,180.9 538.7,180.1 539.3,179.3 C539.9,178.5 540.5,177.7 541.1,176.9 C541.7,176.1 542.3,175.3 542.9,174.5 C543.5,173.7 544.1,172.9 544.7,172.1 C545.3,171.4 545.9,170.6 546.6,169.8 C547.2,169.0 547.8,168.3 548.4,167.5 C549.1,166.7 549.7,166.0 550.3,165.2 C551.0,164.5 551.6,163.7 552.2,163.0 C552.9,162.3 553.5,161.5 554.2,160.8 C554.9,160.1 555.5,159.3 556.2,158.6 C556.9,157.9 557.5,157.2 558.2,156.5 C558.9,155.8 559.6,155.1 560.2,154.4 C560.9,153.7 561.6,153.0 562.3,152.4 C563.0,151.7 563.7,151.0 564.4,150.4 C565.2,149.7 565.9,149.0 566.6,148.4 C567.3,147.7 568.0,147.1 568.8,146.5 C569.5,145.9 570.3,145.2 571.0,144.6 C571.8,144.0 572.5,143.4 573.3,142.8 C574.1,142.2 574.8,141.6 575.6,141.0 C576.4,140.5 577.2,139.9 578.0,139.3 C578.8,138.8 579.6,138.2 580.4,137.7 C581.2,137.1 582.0,136.6 582.8,136.1 C583.6,135.5 584.5,135.0 585.3,134.5 C586.2,134.0 587.0,133.5 587.9,133.0 C588.7,132.5 589.6,132.1 590.5,131.6 C591.3,131.1 592.2,130.7 593.1,130.2 C594.0,129.8 594.9,129.3 595.8,128.9 C596.7,128.5 597.6,128.0 598.5,127.6 C599.4,127.2 600.3,126.8 601.2,126.4 C602.1,126.0 603.1,125.6 604.0,125.3 C604.9,124.9 605.9,124.5 606.8,124.1 C607.7,123.8 608.7,123.4 609.6,123.1 C610.6,122.7 611.5,122.4 612.5,122.1 C613.5,121.7 614.4,121.4 615.4,121.1 C616.4,120.8 617.3,120.5 618.3,120.2 C619.3,119.9 620.3,119.6 621.2,119.3 C622.2,119.1 623.2,118.8 624.2,118.5 C625.2,118.3 626.2,118.0 627.2,117.8 C628.2,117.5 629.1,117.3 630.1,117.0 C631.1,116.8 632.1,116.6 633.1,116.4 C634.1,116.1 635.1,115.9 636.1,115.7 C637.1,115.5 638.2,115.3 639.2,115.1 C640.2,114.9 641.2,114.8 642.2,114.6 C643.2,114.4 644.2,114.2 645.2,114.1 C646.2,113.9 647.2,113.8 648.2,113.6 C649.2,113.5 650.2,113.3 651.2,113.2 C652.3,113.0 653.3,112.9 654.3,112.8 C655.3,112.7 656.3,112.6 657.3,112.5 C658.3,112.3 659.3,112.2 660.3,112.1 C661.3,112.1 662.3,112.0 663.3,111.9 C664.3,111.8 665.3,111.7 666.3,111.6 C667.3,111.6 668.3,111.5 669.3,111.4 C670.3,111.4 671.3,111.3 672.3,111.3 C673.3,111.2 674.2,111.2 675.2,111.2 C676.2,111.1 677.2,111.1 678.2,111.1 C679.2,111.0 680.2,111.0 681.2,111.0 C682.2,111.0 683.2,111.0 684.1,111.0 C685.1,111.0 686.1,111.0 687.1,111.0 C688.1,111.0 689.1,111.0 690.1,111.0 C691.0,111.0 692.0,111.1 693.0,111.1 C694.0,111.1 695.0,111.1 696.0,111.2 C697.0,111.2 697.9,111.2 698.9,111.3 C699.9,111.3 700.9,111.4 701.9,111.4 C702.9,111.5 703.8,111.6 704.8,111.6 C705.8,111.7 706.8,111.7 707.8,111.8 C708.8,111.9 709.7,112.0 710.7,112.0 C711.7,112.1 712.7,112.2 713.7,112.3 C714.7,112.4 715.6,112.5 716.6,112.6 C717.6,112.7 718.6,112.8 719.6,112.9 C720.6,113.0 721.6,113.1 722.5,113.2 C723.5,113.3 724.5,113.4 725.5,113.5 C726.5,113.7 727.5,113.8 728.5,113.9 C729.5,114.0 730.4,114.2 731.4,114.3 C732.4,114.4 733.4,114.6 734.4,114.7 C735.4,114.8 736.4,115.0 737.4,115.1 C738.4,115.3 739.4,115.4 740.4,115.6 C741.4,115.7 742.4,115.9 743.3,116.0 C744.3,116.2 745.3,116.3 746.3,116.5 C747.3,116.7 748.3,116.8 749.3,117.0 C750.3,117.2 751.3,117.3 752.3,117.5 C753.3,117.7 754.3,117.8 755.4,118.0 C756.4,118.2 757.4,118.4 758.4,118.6 C759.4,118.7 760.9,119.0 761.4,119.1" fill="none" stroke="#fff" stroke-width="3.2" stroke-linejoin="round"/>
<path d="M76.1,220.7 L247.3,134.9 L418.6,306.4 L589.9,177.8 L761.1,134.9" fill="none" stroke="#ff0000" stroke-width="3.1" stroke-linejoin="round"/>
<g stroke="#000" stroke-width="1.4" fill="none">
<line x1="76.1" y1="392.2" x2="761" y2="392.2"/>
<line x1="75.4" y1="403.6" x2="761.7" y2="403.6"/>
<line y1="403.6" y2="400.1" x1="76.1" x2="76.1"/><line y1="403.6" y2="400.1" x1="213.1" x2="213.1"/><line y1="403.6" y2="400.1" x1="350.1" x2="350.1"/><line y1="403.6" y2="400.1" x1="487.1" x2="487.1"/><line y1="403.6" y2="400.1" x1="624.1" x2="624.1"/><line y1="403.6" y2="400.1" x1="761.1" x2="761.1"/>
</g>
<g fill="#ff0000"><rect x="79.45" y="395.5" width="3.68" height="8.4" opacity="0.6"/><rect x="79.45" y="395.5" width="1.15" height="8.4"/><rect x="80.95" y="395.5" width="1.15" height="8.4"/><rect x="84.90" y="395.5" width="1.00" height="8.4"/><rect x="90.10" y="395.5" width="1.14" height="8.4"/><rect x="93.26" y="395.5" width="1.01" height="8.4"/><rect x="96.43" y="395.5" width="1.01" height="8.4"/><rect x="98.21" y="395.5" width="1.01" height="8.4"/><rect x="99.73" y="395.5" width="1.14" height="8.4"/><rect x="104.42" y="395.5" width="3.80" height="8.4" opacity="0.6"/><rect x="104.42" y="395.5" width="1.15" height="8.4"/><rect x="106.22" y="395.5" width="1.15" height="8.4"/><rect x="111.14" y="395.5" width="1.01" height="8.4"/><rect x="116.46" y="395.5" width="1.25" height="8.4"/><rect x="119.88" y="395.5" width="1.01" height="8.4"/><rect x="124.19" y="395.5" width="1.14" height="8.4"/><rect x="127.87" y="395.5" width="8.24" height="8.4" opacity="0.6"/><rect x="127.87" y="395.5" width="1.15" height="8.4"/><rect x="129.17" y="395.5" width="1.15" height="8.4"/><rect x="130.47" y="395.5" width="1.15" height="8.4"/><rect x="132.57" y="395.5" width="1.15" height="8.4"/><rect x="134.37" y="395.5" width="1.15" height="8.4"/><rect x="138.64" y="395.5" width="1.25" height="8.4"/><rect x="142.44" y="395.5" width="1.25" height="8.4"/><rect x="147.51" y="395.5" width="1.25" height="8.4"/><rect x="150.05" y="395.5" width="8.62" height="8.4" opacity="0.6"/><rect x="150.05" y="395.5" width="1.15" height="8.4"/><rect x="151.55" y="395.5" width="1.15" height="8.4"/><rect x="153.65" y="395.5" width="1.15" height="8.4"/><rect x="155.75" y="395.5" width="1.15" height="8.4"/><rect x="160.19" y="395.5" width="1.25" height="8.4"/><rect x="162.97" y="395.5" width="1.25" height="8.4"/><rect x="168.04" y="395.5" width="5.96" height="8.4" opacity="0.6"/><rect x="168.04" y="395.5" width="1.15" height="8.4"/><rect x="169.54" y="395.5" width="1.15" height="8.4"/><rect x="171.04" y="395.5" width="1.15" height="8.4"/><rect x="172.54" y="395.5" width="1.15" height="8.4"/><rect x="174.00" y="395.5" width="2.53" height="8.4" opacity="0.6"/><rect x="174.00" y="395.5" width="1.15" height="8.4"/><rect x="175.30" y="395.5" width="1.15" height="8.4"/><rect x="180.34" y="395.5" width="10.77" height="8.4" opacity="0.6"/><rect x="180.34" y="395.5" width="1.15" height="8.4"/><rect x="181.84" y="395.5" width="1.15" height="8.4"/><rect x="183.14" y="395.5" width="1.15" height="8.4"/><rect x="184.94" y="395.5" width="1.15" height="8.4"/><rect x="186.24" y="395.5" width="1.15" height="8.4"/><rect x="188.04" y="395.5" width="1.15" height="8.4"/><rect x="190.14" y="395.5" width="1.15" height="8.4"/><rect x="193.65" y="395.5" width="1.01" height="8.4"/><rect x="196.18" y="395.5" width="1.01" height="8.4"/><rect x="199.10" y="395.5" width="2.15" height="8.4" opacity="0.6"/><rect x="199.10" y="395.5" width="1.15" height="8.4"/><rect x="203.78" y="395.5" width="8.24" height="8.4" opacity="0.6"/><rect x="203.78" y="395.5" width="1.15" height="8.4"/><rect x="205.88" y="395.5" width="1.15" height="8.4"/><rect x="207.98" y="395.5" width="1.15" height="8.4"/><rect x="209.48" y="395.5" width="1.15" height="8.4"/><rect x="214.30" y="395.5" width="1.01" height="8.4"/><rect x="218.99" y="395.5" width="3.17" height="8.4" opacity="0.6"/><rect x="218.99" y="395.5" width="1.15" height="8.4"/><rect x="220.29" y="395.5" width="1.15" height="8.4"/><rect x="226.22" y="395.5" width="1.01" height="8.4"/><rect x="229.77" y="395.5" width="8.87" height="8.4" opacity="0.6"/><rect x="229.77" y="395.5" width="1.15" height="8.4"/><rect x="231.27" y="395.5" width="1.15" height="8.4"/><rect x="233.37" y="395.5" width="1.15" height="8.4"/><rect x="234.87" y="395.5" width="1.15" height="8.4"/><rect x="236.67" y="395.5" width="1.15" height="8.4"/><rect x="241.81" y="395.5" width="12.67" height="8.4" opacity="0.6"/><rect x="241.81" y="395.5" width="1.15" height="8.4"/><rect x="243.61" y="395.5" width="1.15" height="8.4"/><rect x="245.71" y="395.5" width="1.15" height="8.4"/><rect x="247.81" y="395.5" width="1.15" height="8.4"/><rect x="249.61" y="395.5" width="1.15" height="8.4"/><rect x="251.71" y="395.5" width="1.15" height="8.4"/><rect x="253.21" y="395.5" width="1.15" height="8.4"/><rect x="255.75" y="395.5" width="1.90" height="8.4" opacity="0.6"/><rect x="255.75" y="395.5" width="1.15" height="8.4"/><rect x="258.92" y="395.5" width="6.97" height="8.4" opacity="0.6"/><rect x="258.92" y="395.5" width="1.15" height="8.4"/><rect x="260.72" y="395.5" width="1.15" height="8.4"/><rect x="262.22" y="395.5" width="1.15" height="8.4"/><rect x="264.02" y="395.5" width="1.15" height="8.4"/><rect x="267.16" y="395.5" width="6.84" height="8.4" opacity="0.6"/><rect x="267.16" y="395.5" width="1.15" height="8.4"/><rect x="268.66" y="395.5" width="1.15" height="8.4"/><rect x="270.46" y="395.5" width="1.15" height="8.4"/><rect x="272.26" y="395.5" width="1.15" height="8.4"/><rect x="275.01" y="395.5" width="1.01" height="8.4"/><rect x="282.62" y="395.5" width="11.03" height="8.4" opacity="0.6"/><rect x="282.62" y="395.5" width="1.15" height="8.4"/><rect x="283.92" y="395.5" width="1.15" height="8.4"/><rect x="286.02" y="395.5" width="1.15" height="8.4"/><rect x="288.12" y="395.5" width="1.15" height="8.4"/><rect x="289.42" y="395.5" width="1.15" height="8.4"/><rect x="291.22" y="395.5" width="1.15" height="8.4"/><rect x="292.52" y="395.5" width="1.15" height="8.4"/><rect x="296.56" y="395.5" width="1.00" height="8.4"/><rect x="298.08" y="395.5" width="1.00" height="8.4"/><rect x="299.73" y="395.5" width="1.00" height="8.4"/><rect x="301.63" y="395.5" width="1.00" height="8.4"/><rect x="304.16" y="395.5" width="1.00" height="8.4"/><rect x="311.14" y="395.5" width="1.01" height="8.4"/><rect x="317.60" y="395.5" width="1.00" height="8.4"/><rect x="321.15" y="395.5" width="1.00" height="8.4"/><rect x="324.32" y="395.5" width="1.00" height="8.4"/><rect x="326.22" y="395.5" width="1.00" height="8.4"/><rect x="328.12" y="395.5" width="1.00" height="8.4"/><rect x="332.05" y="395.5" width="8.11" height="8.4" opacity="0.6"/><rect x="332.05" y="395.5" width="1.15" height="8.4"/><rect x="333.55" y="395.5" width="1.15" height="8.4"/><rect x="334.85" y="395.5" width="1.15" height="8.4"/><rect x="336.65" y="395.5" width="1.15" height="8.4"/><rect x="338.75" y="395.5" width="1.15" height="8.4"/><rect x="343.07" y="395.5" width="3.42" height="8.4" opacity="0.6"/><rect x="343.07" y="395.5" width="1.15" height="8.4"/><rect x="344.37" y="395.5" width="1.15" height="8.4"/><rect x="349.67" y="395.5" width="1.00" height="8.4"/><rect x="354.74" y="395.5" width="1.00" height="8.4"/><rect x="358.54" y="395.5" width="1.00" height="8.4"/><rect x="363.35" y="395.5" width="2.41" height="8.4" opacity="0.6"/><rect x="363.35" y="395.5" width="1.15" height="8.4"/><rect x="364.65" y="395.5" width="1.15" height="8.4"/><rect x="370.32" y="395.5" width="3.68" height="8.4" opacity="0.6"/><rect x="370.32" y="395.5" width="1.15" height="8.4"/><rect x="372.12" y="395.5" width="1.15" height="8.4"/><rect x="374.00" y="395.5" width="1.00" height="8.4"/><rect x="381.73" y="395.5" width="1.01" height="8.4"/><rect x="386.80" y="395.5" width="1.01" height="8.4"/><rect x="388.83" y="395.5" width="1.01" height="8.4"/><rect x="393.14" y="395.5" width="1.01" height="8.4"/><rect x="396.94" y="395.5" width="1.01" height="8.4"/><rect x="399.86" y="395.5" width="1.01" height="8.4"/><rect x="409.61" y="395.5" width="1.01" height="8.4"/><rect x="414.30" y="395.5" width="1.01" height="8.4"/><rect x="420.39" y="395.5" width="1.01" height="8.4"/><rect x="427.61" y="395.5" width="1.01" height="8.4"/><rect x="434.58" y="395.5" width="3.04" height="8.4" opacity="0.6"/><rect x="434.58" y="395.5" width="1.15" height="8.4"/><rect x="436.08" y="395.5" width="1.15" height="8.4"/><rect x="444.47" y="395.5" width="1.01" height="8.4"/><rect x="449.16" y="395.5" width="1.01" height="8.4"/><rect x="458.28" y="395.5" width="3.42" height="8.4" opacity="0.6"/><rect x="458.28" y="395.5" width="1.15" height="8.4"/><rect x="460.08" y="395.5" width="1.15" height="8.4"/><rect x="465.25" y="395.5" width="5.70" height="8.4" opacity="0.6"/><rect x="465.25" y="395.5" width="1.15" height="8.4"/><rect x="466.55" y="395.5" width="1.15" height="8.4"/><rect x="467.85" y="395.5" width="1.15" height="8.4"/><rect x="469.15" y="395.5" width="1.15" height="8.4"/><rect x="474.00" y="395.5" width="1.25" height="8.4"/><rect x="476.53" y="395.5" width="1.01" height="8.4"/><rect x="478.82" y="395.5" width="1.01" height="8.4"/><rect x="480.97" y="395.5" width="1.01" height="8.4"/><rect x="484.14" y="395.5" width="1.25" height="8.4"/><rect x="492.38" y="395.5" width="3.80" height="8.4" opacity="0.6"/><rect x="492.38" y="395.5" width="1.15" height="8.4"/><rect x="494.48" y="395.5" width="1.15" height="8.4"/><rect x="502.14" y="395.5" width="1.25" height="8.4"/><rect x="505.43" y="395.5" width="1.25" height="8.4"/><rect x="508.22" y="395.5" width="5.07" height="8.4" opacity="0.6"/><rect x="508.22" y="395.5" width="1.15" height="8.4"/><rect x="510.02" y="395.5" width="1.15" height="8.4"/><rect x="511.52" y="395.5" width="1.15" height="8.4"/><rect x="516.46" y="395.5" width="1.25" height="8.4"/><rect x="524.44" y="395.5" width="1.25" height="8.4"/><rect x="526.98" y="395.5" width="2.79" height="8.4" opacity="0.6"/><rect x="526.98" y="395.5" width="1.15" height="8.4"/><rect x="528.78" y="395.5" width="1.15" height="8.4"/><rect x="534.84" y="395.5" width="1.25" height="8.4"/><rect x="539.91" y="395.5" width="15.21" height="8.4" opacity="0.6"/><rect x="539.91" y="395.5" width="1.15" height="8.4"/><rect x="541.71" y="395.5" width="1.15" height="8.4"/><rect x="543.21" y="395.5" width="1.15" height="8.4"/><rect x="545.31" y="395.5" width="1.15" height="8.4"/><rect x="547.41" y="395.5" width="1.15" height="8.4"/><rect x="549.51" y="395.5" width="1.15" height="8.4"/><rect x="551.61" y="395.5" width="1.15" height="8.4"/><rect x="552.91" y="395.5" width="1.15" height="8.4"/><rect x="556.13" y="395.5" width="1.01" height="8.4"/><rect x="559.17" y="395.5" width="1.25" height="8.4"/><rect x="562.09" y="395.5" width="1.25" height="8.4"/><rect x="564.62" y="395.5" width="1.25" height="8.4"/><rect x="567.16" y="395.5" width="1.25" height="8.4"/><rect x="569.69" y="395.5" width="1.25" height="8.4"/><rect x="572.23" y="395.5" width="1.25" height="8.4"/><rect x="577.17" y="395.5" width="2.53" height="8.4" opacity="0.6"/><rect x="577.17" y="395.5" width="1.15" height="8.4"/><rect x="582.24" y="395.5" width="4.44" height="8.4" opacity="0.6"/><rect x="582.24" y="395.5" width="1.15" height="8.4"/><rect x="583.74" y="395.5" width="1.15" height="8.4"/><rect x="585.54" y="395.5" width="1.15" height="8.4"/><rect x="589.21" y="395.5" width="6.97" height="8.4" opacity="0.6"/><rect x="589.21" y="395.5" width="1.15" height="8.4"/><rect x="591.01" y="395.5" width="1.15" height="8.4"/><rect x="592.81" y="395.5" width="1.15" height="8.4"/><rect x="594.61" y="395.5" width="1.15" height="8.4"/><rect x="597.45" y="395.5" width="1.25" height="8.4"/><rect x="600.62" y="395.5" width="1.25" height="8.4"/><rect x="607.21" y="395.5" width="1.25" height="8.4"/><rect x="613.92" y="395.5" width="3.80" height="8.4" opacity="0.6"/><rect x="613.92" y="395.5" width="1.15" height="8.4"/><rect x="616.02" y="395.5" width="1.15" height="8.4"/><rect x="618.99" y="395.5" width="1.25" height="8.4"/><rect x="624.70" y="395.5" width="1.25" height="8.4"/><rect x="629.13" y="395.5" width="1.25" height="8.4"/><rect x="635.22" y="395.5" width="9.76" height="8.4" opacity="0.6"/><rect x="635.22" y="395.5" width="1.15" height="8.4"/><rect x="636.52" y="395.5" width="1.15" height="8.4"/><rect x="638.62" y="395.5" width="1.15" height="8.4"/><rect x="640.12" y="395.5" width="1.15" height="8.4"/><rect x="641.42" y="395.5" width="1.15" height="8.4"/><rect x="643.22" y="395.5" width="1.15" height="8.4"/><rect x="646.24" y="395.5" width="7.60" height="8.4" opacity="0.6"/><rect x="646.24" y="395.5" width="1.15" height="8.4"/><rect x="648.04" y="395.5" width="1.15" height="8.4"/><rect x="649.84" y="395.5" width="1.15" height="8.4"/><rect x="651.64" y="395.5" width="1.15" height="8.4"/><rect x="655.75" y="395.5" width="1.25" height="8.4"/><rect x="658.28" y="395.5" width="1.90" height="8.4" opacity="0.6"/><rect x="658.28" y="395.5" width="1.15" height="8.4"/><rect x="663.99" y="395.5" width="1.25" height="8.4"/><rect x="667.79" y="395.5" width="6.21" height="8.4" opacity="0.6"/><rect x="667.79" y="395.5" width="1.15" height="8.4"/><rect x="669.09" y="395.5" width="1.15" height="8.4"/><rect x="670.39" y="395.5" width="1.15" height="8.4"/><rect x="672.19" y="395.5" width="1.15" height="8.4"/><rect x="674.00" y="395.5" width="3.80" height="8.4" opacity="0.6"/><rect x="674.00" y="395.5" width="1.15" height="8.4"/><rect x="676.10" y="395.5" width="1.15" height="8.4"/><rect x="679.07" y="395.5" width="1.25" height="8.4"/><rect x="681.86" y="395.5" width="1.25" height="8.4"/><rect x="684.77" y="395.5" width="2.53" height="8.4" opacity="0.6"/><rect x="684.77" y="395.5" width="1.15" height="8.4"/><rect x="688.58" y="395.5" width="3.17" height="8.4" opacity="0.6"/><rect x="688.58" y="395.5" width="1.15" height="8.4"/><rect x="690.08" y="395.5" width="1.15" height="8.4"/><rect x="694.91" y="395.5" width="21.55" height="8.4" opacity="0.6"/><rect x="694.91" y="395.5" width="1.15" height="8.4"/><rect x="696.41" y="395.5" width="1.15" height="8.4"/><rect x="698.21" y="395.5" width="1.15" height="8.4"/><rect x="700.01" y="395.5" width="1.15" height="8.4"/><rect x="701.81" y="395.5" width="1.15" height="8.4"/><rect x="703.61" y="395.5" width="1.15" height="8.4"/><rect x="705.71" y="395.5" width="1.15" height="8.4"/><rect x="707.01" y="395.5" width="1.15" height="8.4"/><rect x="708.31" y="395.5" width="1.15" height="8.4"/><rect x="709.81" y="395.5" width="1.15" height="8.4"/><rect x="711.61" y="395.5" width="1.15" height="8.4"/><rect x="713.11" y="395.5" width="1.15" height="8.4"/><rect x="714.91" y="395.5" width="1.15" height="8.4"/><rect x="717.73" y="395.5" width="5.07" height="8.4" opacity="0.6"/><rect x="717.73" y="395.5" width="1.15" height="8.4"/><rect x="719.53" y="395.5" width="1.15" height="8.4"/><rect x="721.03" y="395.5" width="1.15" height="8.4"/><rect x="725.33" y="395.5" width="1.25" height="8.4"/><rect x="729.77" y="395.5" width="4.44" height="8.4" opacity="0.6"/><rect x="729.77" y="395.5" width="1.15" height="8.4"/><rect x="731.07" y="395.5" width="1.15" height="8.4"/><rect x="732.37" y="395.5" width="1.15" height="8.4"/><rect x="737.37" y="395.5" width="9.51" height="8.4" opacity="0.6"/><rect x="737.37" y="395.5" width="1.15" height="8.4"/><rect x="739.17" y="395.5" width="1.15" height="8.4"/><rect x="740.67" y="395.5" width="1.15" height="8.4"/><rect x="742.77" y="395.5" width="1.15" height="8.4"/><rect x="744.27" y="395.5" width="1.15" height="8.4"/><rect x="745.57" y="395.5" width="1.15" height="8.4"/><rect x="750.05" y="395.5" width="3.80" height="8.4" opacity="0.6"/><rect x="750.05" y="395.5" width="1.15" height="8.4"/><rect x="751.55" y="395.5" width="1.15" height="8.4"/><rect x="758.28" y="395.5" width="1.90" height="8.4" opacity="0.6"/><rect x="758.28" y="395.5" width="1.15" height="8.4"/></g>
<g font-size="30.8px">
<text x="67.3" y="403.9" text-anchor="end">0</text><path transform="translate(50.38,317.75) scale(0.03080,-0.03080)" d="M273,0 L273,505 L101,505 L101,566 C196,570 262,612 292,709 L359,709 L359,0 Z"/><text x="67.3" y="232.4" text-anchor="end">2</text><text x="67.3" y="146.6" text-anchor="end">3</text><text x="67.3" y="60.9" text-anchor="end">4</text>
<text x="76.1" y="441.1" text-anchor="middle">0</text><text x="213.1" y="441.1" text-anchor="middle">20</text><text x="350.1" y="441.1" text-anchor="middle">40</text><text x="487.1" y="441.1" text-anchor="middle">60</text><text x="624.1" y="441.1" text-anchor="middle">80</text><path transform="translate(735.21,441.10) scale(0.03080,-0.03080)" d="M273,0 L273,505 L101,505 L101,566 C196,570 262,612 292,709 L359,709 L359,0 Z"/><text x="751.84" y="441.1" text-anchor="start">00</text>
<text x="418.4" y="478" text-anchor="middle">Time</text>
<text transform="translate(31.1,205.6) rotate(-90)" text-anchor="middle">Intensity</text>
</g>
<!-- inset -->
<path d="M700.30,106.6 L700.30,104.5 L701.61,104.5 L701.61,102.0 L702.92,102.0 L702.92,99.5 L704.23,99.5 L704.23,97.0 L705.54,97.0 L705.54,95.0 L706.85,95.0 L706.85,88.0 L708.16,88.0 L708.16,79.0 L709.47,79.0 L709.47,68.0 L710.78,68.0 L710.78,57.0 L712.09,57.0 L712.09,15.6 L713.40,15.6 L713.40,16.5 L714.71,16.5 L714.71,32.5 L716.02,32.5 L716.02,33.1 L717.33,33.1 L717.33,40.0 L718.64,40.0 L718.64,47.0 L719.95,47.0 L719.95,51.5 L721.26,51.5 L721.26,70.0 L722.57,70.0 L722.57,88.0 L723.88,88.0 L723.88,96.0 L725.19,96.0 L725.19,99.5 L726.50,99.5 L726.50,101.5 L727.81,101.5 L727.81,103.0 L729.12,103.0 L729.12,104.8 L730.43,104.8 L730.43,105.8 L731.74,105.8 L731.74,106.6 Z" fill="#9999ff"/>
<line x1="613.8" y1="10" x2="613.8" y2="106.4" stroke="#c8c8c8" stroke-width="0.5"/>
<line x1="666.2" y1="10" x2="666.2" y2="106.4" stroke="#4a4a4a" stroke-width="1.6"/>
<line x1="771.2" y1="10" x2="771.2" y2="106.4" stroke="#ff4545" stroke-width="1.5"/>
<line x1="613.4" y1="106.65" x2="771.6" y2="106.65" stroke="#1c1c26" stroke-width="1.4"/>
<g font-size="24px">
<text x="613.9" y="138.3" text-anchor="middle">0</text>
<path transform="translate(659.83,138.30) scale(0.02400,-0.02400)" d="M273,0 L273,505 L101,505 L101,566 C196,570 262,612 292,709 L359,709 L359,0 Z"/>
<text x="771.5" y="138.3" text-anchor="middle">3</text>
</g>
</svg>
</body></html>
